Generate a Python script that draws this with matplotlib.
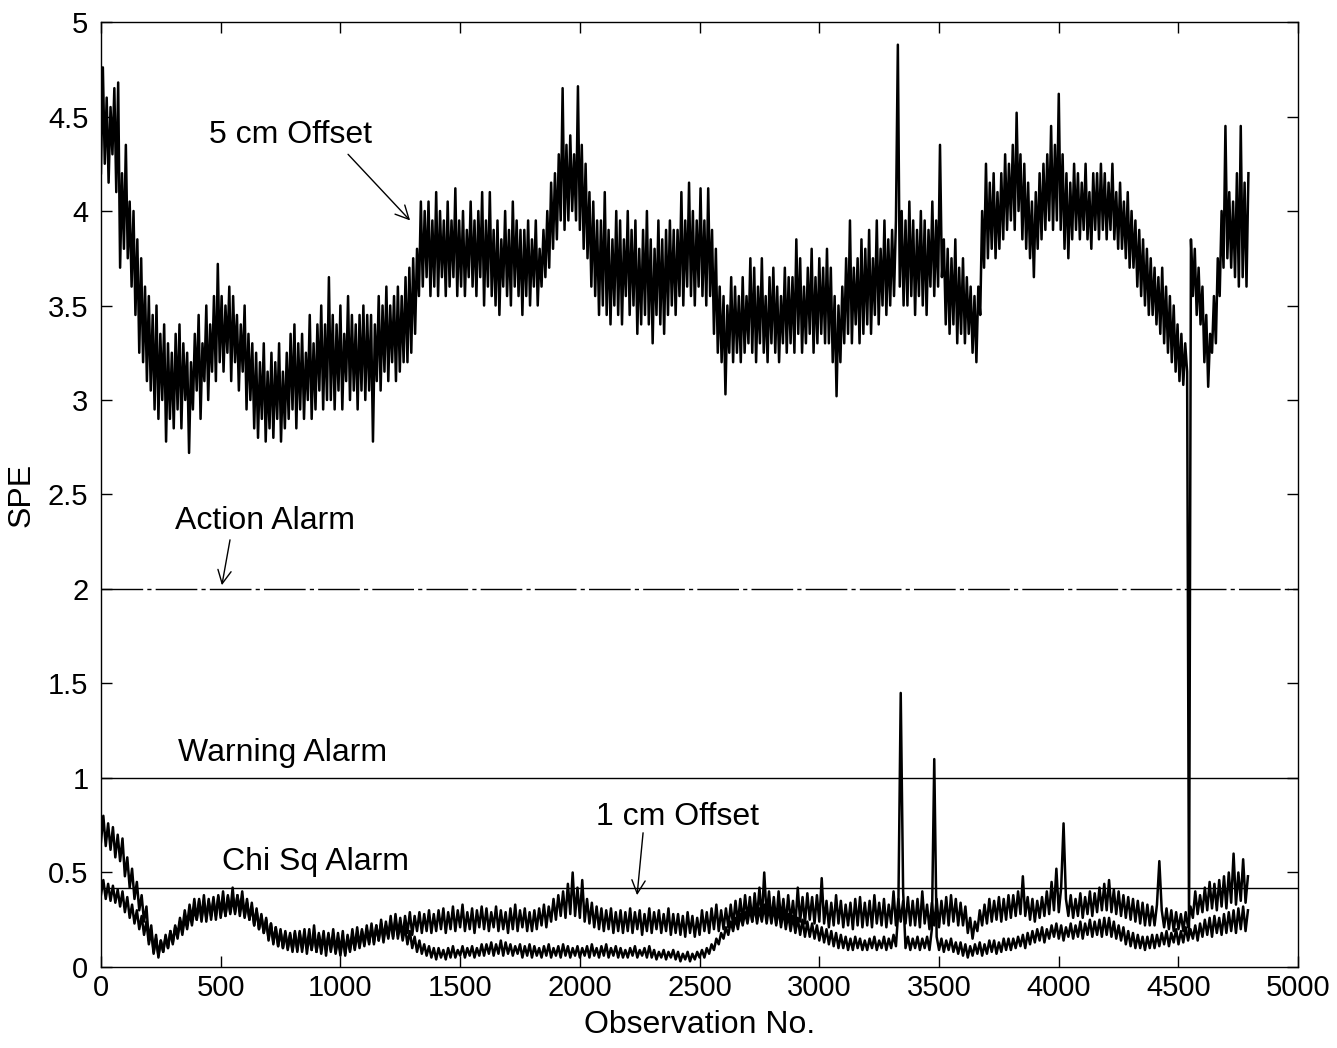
import numpy as np
import matplotlib
matplotlib.use("Agg")
import matplotlib.pyplot as plt
from matplotlib.ticker import FormatStrFormatter

plt.rcParams['font.family'] = ['Liberation Sans', 'DejaVu Sans']

# ---- data ----
step_5cm = 8
spe_5cm = [
    4.20, 4.76, 4.25, 4.60, 4.15, 4.55, 4.30, 4.65, 4.10, 4.68, 3.70, 4.20, 3.80, 4.35, 3.75, 4.05, 3.60, 4.00, 3.45, 3.85,
    3.25, 3.75, 3.20, 3.60, 3.10, 3.55, 3.05, 3.45, 2.95, 3.50, 2.90, 3.35, 3.00, 3.40, 2.78, 3.30, 2.90, 3.25, 2.85, 3.35,
    2.95, 3.40, 2.85, 3.30, 3.00, 3.25, 2.72, 3.20, 2.95, 3.35, 3.05, 3.45, 2.90, 3.30, 3.10, 3.50, 3.00, 3.40, 3.15, 3.55,
    3.10, 3.72, 3.20, 3.55, 3.15, 3.50, 3.25, 3.60, 3.10, 3.55, 3.20, 3.45, 3.05, 3.40, 3.15, 3.50, 2.95, 3.35, 3.00, 3.30,
    2.85, 3.25, 2.80, 3.20, 2.90, 3.30, 2.78, 3.15, 2.85, 3.25, 2.80, 3.20, 2.90, 3.30, 2.78, 3.15, 2.85, 3.25, 2.90, 3.35,
    2.95, 3.40, 2.85, 3.30, 2.95, 3.35, 2.90, 3.25, 3.00, 3.45, 2.90, 3.30, 2.95, 3.40, 3.05, 3.50, 2.95, 3.40, 3.00, 3.65,
    3.00, 3.45, 2.95, 3.40, 3.05, 3.50, 2.95, 3.35, 3.10, 3.55, 3.00, 3.45, 3.05, 3.40, 2.95, 3.45, 3.05, 3.50, 3.00, 3.45,
    3.05, 3.45, 2.78, 3.40, 3.10, 3.55, 3.05, 3.50, 3.15, 3.60, 3.10, 3.50, 3.20, 3.55, 3.10, 3.60, 3.15, 3.55, 3.20, 3.65,
    3.20, 3.70, 3.25, 3.75, 3.35, 3.80, 3.55, 4.05, 3.60, 4.00, 3.65, 4.05, 3.55, 3.95, 3.60, 4.10, 3.55, 4.00, 3.65, 3.95,
    3.55, 4.05, 3.60, 3.95, 3.65, 4.12, 3.55, 3.95, 3.60, 4.00, 3.55, 3.90, 3.65, 4.05, 3.60, 3.95, 3.55, 4.00, 3.65, 4.10,
    3.50, 3.95, 3.60, 4.10, 3.55, 3.90, 3.50, 3.95, 3.45, 3.85, 3.60, 4.00, 3.55, 3.90, 3.50, 4.05, 3.60, 3.95, 3.55, 3.90,
    3.45, 3.90, 3.55, 3.95, 3.50, 3.85, 3.60, 3.95, 3.50, 3.80, 3.60, 3.90, 3.65, 4.00, 3.70, 4.15, 3.80, 4.20, 3.85, 4.30,
    3.95, 4.65, 3.90, 4.35, 3.95, 4.40, 4.00, 4.30, 3.95, 4.66, 3.90, 4.35, 3.80, 4.25, 3.75, 4.10, 3.60, 4.05, 3.55, 3.95,
    3.45, 3.95, 3.50, 4.10, 3.45, 3.90, 3.40, 3.85, 3.50, 4.00, 3.45, 3.95, 3.40, 3.85, 3.55, 4.00, 3.45, 3.90, 3.50, 3.95,
    3.35, 3.80, 3.40, 3.90, 3.45, 4.00, 3.40, 3.85, 3.30, 3.80, 3.45, 3.95, 3.40, 3.85, 3.35, 3.90, 3.45, 3.95, 3.50, 3.90,
    3.45, 3.90, 3.55, 4.10, 3.50, 3.95, 3.60, 4.15, 3.55, 4.00, 3.50, 3.95, 3.60, 4.12, 3.55, 3.95, 3.50, 4.12, 3.55, 3.90,
    3.35, 3.80, 3.25, 3.60, 3.20, 3.55, 3.03, 3.50, 3.25, 3.65, 3.20, 3.60, 3.25, 3.55, 3.20, 3.65, 3.25, 3.55, 3.30, 3.75,
    3.25, 3.70, 3.20, 3.60, 3.30, 3.75, 3.25, 3.55, 3.20, 3.65, 3.30, 3.70, 3.25, 3.60, 3.20, 3.55, 3.30, 3.70, 3.25, 3.65,
    3.30, 3.65, 3.25, 3.85, 3.35, 3.75, 3.25, 3.60, 3.30, 3.70, 3.35, 3.80, 3.25, 3.65, 3.30, 3.75, 3.35, 3.70, 3.30, 3.80,
    3.30, 3.70, 3.20, 3.55, 3.02, 3.50, 3.20, 3.60, 3.30, 3.75, 3.35, 3.95, 3.30, 3.70, 3.40, 3.75, 3.30, 3.85, 3.35, 3.80,
    3.40, 3.90, 3.35, 3.75, 3.45, 3.95, 3.40, 3.80, 3.50, 3.95, 3.45, 3.85, 3.50, 3.90, 3.55, 3.95, 4.88, 3.60, 4.00, 3.50,
    3.95, 3.50, 4.05, 3.55, 3.95, 3.45, 3.90, 3.55, 4.00, 3.50, 3.95, 3.45, 3.90, 3.60, 4.05, 3.55, 3.95, 3.60, 4.35, 3.65,
    3.85, 3.40, 3.80, 3.35, 3.75, 3.40, 3.85, 3.30, 3.70, 3.35, 3.75, 3.30, 3.65, 3.35, 3.60, 3.25, 3.55, 3.20, 3.60, 3.45,
    4.00, 3.70, 4.25, 3.75, 4.15, 3.80, 4.20, 3.75, 4.10, 3.80, 4.20, 3.85, 4.30, 3.90, 4.25, 3.95, 4.35, 3.90, 4.52, 4.00,
    4.30, 3.85, 4.25, 3.80, 4.15, 3.75, 4.05, 3.65, 4.10, 3.80, 4.20, 3.85, 4.25, 3.90, 4.30, 3.95, 4.45, 3.90, 4.35, 3.95,
    4.62, 3.90, 4.30, 3.80, 4.20, 3.75, 4.15, 3.85, 4.25, 3.90, 4.20, 3.85, 4.15, 3.90, 4.25, 3.85, 4.10, 3.80, 4.20, 3.90,
    4.20, 3.85, 4.25, 3.90, 4.20, 3.85, 4.15, 3.90, 4.25, 3.85, 4.10, 3.80, 4.15, 3.80, 4.05, 3.75, 4.10, 3.70, 4.00, 3.70,
    3.95, 3.60, 3.90, 3.55, 3.85, 3.50, 3.80, 3.45, 3.75, 3.45, 3.70, 3.40, 3.65, 3.35, 3.70, 3.30, 3.60, 3.25, 3.55, 3.20,
    3.50, 3.15, 3.40, 3.10, 3.35, 3.08, 3.30, 3.15, 0.18, 3.85, 3.55, 3.80, 3.45, 3.70, 3.40, 3.60, 3.20, 3.45, 3.07, 3.35,
    3.25, 3.55, 3.30, 3.75, 3.55, 4.00, 3.70, 4.45, 3.75, 4.10, 3.70, 4.05, 3.65, 4.20, 3.60, 4.45, 3.65, 4.15, 3.60, 4.20,
]

step_low = 10
spe_1cm = [
    0.66, 0.80, 0.64, 0.76, 0.62, 0.74, 0.58, 0.70, 0.56, 0.68, 0.48, 0.58, 0.42, 0.52, 0.36, 0.45, 0.30, 0.38, 0.24, 0.32,
    0.14, 0.22, 0.08, 0.17, 0.05, 0.14, 0.08, 0.16, 0.10, 0.19, 0.13, 0.22, 0.17, 0.26, 0.20, 0.30, 0.22, 0.33, 0.25, 0.36,
    0.25, 0.36, 0.26, 0.38, 0.24, 0.35, 0.27, 0.37, 0.25, 0.38, 0.28, 0.40, 0.27, 0.37, 0.29, 0.42, 0.28, 0.38, 0.30, 0.40,
    0.27, 0.36, 0.25, 0.34, 0.22, 0.31, 0.20, 0.28, 0.18, 0.26, 0.14, 0.23, 0.12, 0.21, 0.11, 0.20, 0.10, 0.19, 0.10, 0.18,
    0.09, 0.19, 0.08, 0.18, 0.10, 0.20, 0.07, 0.17, 0.09, 0.22, 0.08, 0.18, 0.10, 0.19, 0.06, 0.17, 0.09, 0.20, 0.08, 0.18,
    0.08, 0.19, 0.06, 0.17, 0.09, 0.20, 0.10, 0.21, 0.11, 0.20, 0.12, 0.22, 0.13, 0.23, 0.12, 0.22, 0.14, 0.25, 0.15, 0.24,
    0.16, 0.27, 0.15, 0.28, 0.17, 0.26, 0.16, 0.27, 0.18, 0.29, 0.17, 0.27, 0.19, 0.29, 0.18, 0.28, 0.19, 0.30, 0.18, 0.28,
    0.19, 0.30, 0.20, 0.31, 0.18, 0.29, 0.20, 0.32, 0.19, 0.30, 0.21, 0.33, 0.19, 0.29, 0.20, 0.31, 0.18, 0.30, 0.21, 0.32,
    0.20, 0.31, 0.19, 0.29, 0.21, 0.32, 0.19, 0.30, 0.20, 0.29, 0.18, 0.31, 0.20, 0.33, 0.19, 0.30, 0.21, 0.31, 0.19, 0.29,
    0.19, 0.30, 0.20, 0.31, 0.22, 0.33, 0.21, 0.32, 0.24, 0.36, 0.25, 0.38, 0.27, 0.40, 0.26, 0.44, 0.28, 0.50, 0.27, 0.42,
    0.26, 0.46, 0.24, 0.36, 0.23, 0.34, 0.21, 0.32, 0.20, 0.31, 0.19, 0.30, 0.20, 0.31, 0.18, 0.29, 0.19, 0.30, 0.18, 0.29,
    0.19, 0.31, 0.18, 0.29, 0.20, 0.30, 0.17, 0.28, 0.19, 0.31, 0.18, 0.29, 0.20, 0.30, 0.18, 0.28, 0.19, 0.31, 0.17, 0.28,
    0.18, 0.28, 0.17, 0.27, 0.16, 0.29, 0.18, 0.27, 0.16, 0.26, 0.17, 0.30, 0.19, 0.29, 0.18, 0.31, 0.20, 0.33, 0.19, 0.30,
    0.20, 0.31, 0.21, 0.33, 0.22, 0.35, 0.23, 0.36, 0.24, 0.38, 0.25, 0.37, 0.24, 0.39, 0.26, 0.42, 0.25, 0.50, 0.27, 0.40,
    0.24, 0.37, 0.23, 0.40, 0.25, 0.36, 0.23, 0.38, 0.24, 0.35, 0.22, 0.42, 0.24, 0.37, 0.23, 0.39, 0.25, 0.37, 0.23, 0.38,
    0.24, 0.47, 0.23, 0.35, 0.21, 0.34, 0.22, 0.38, 0.23, 0.35, 0.21, 0.33, 0.22, 0.34, 0.20, 0.36, 0.22, 0.37, 0.21, 0.34,
    0.22, 0.35, 0.21, 0.38, 0.23, 0.34, 0.22, 0.36, 0.21, 0.33, 0.23, 0.40, 0.22, 0.36, 0.24, 0.35, 0.23, 0.37, 0.22, 0.35,
    0.22, 0.36, 0.21, 0.40, 0.23, 0.33, 0.20, 0.34, 0.22, 0.36, 0.21, 0.35, 0.23, 0.37, 0.22, 0.38, 0.24, 0.36, 0.22, 0.34,
    0.22, 0.32, 0.18, 0.26, 0.15, 0.24, 0.19, 0.30, 0.22, 0.33, 0.23, 0.36, 0.24, 0.35, 0.25, 0.37, 0.24, 0.36, 0.25, 0.38,
    0.26, 0.38, 0.27, 0.40, 0.28, 0.48, 0.27, 0.37, 0.25, 0.36, 0.24, 0.35, 0.26, 0.37, 0.27, 0.40, 0.28, 0.45, 0.30, 0.52,
    0.29, 0.42, 0.76, 0.36, 0.27, 0.38, 0.26, 0.36, 0.27, 0.39, 0.26, 0.37, 0.28, 0.40, 0.27, 0.39, 0.29, 0.42, 0.30, 0.44,
    0.30, 0.46, 0.29, 0.41, 0.28, 0.40, 0.27, 0.38, 0.26, 0.37, 0.25, 0.36, 0.24, 0.35, 0.23, 0.34, 0.22, 0.33, 0.22, 0.32,
    0.22, 0.33, 0.56, 0.30, 0.21, 0.31, 0.20, 0.30, 0.19, 0.29, 0.20, 0.28, 0.19, 0.29, 0.21, 0.32, 0.26, 0.40, 0.28, 0.38,
    0.29, 0.42, 0.30, 0.45, 0.31, 0.44, 0.30, 0.46, 0.32, 0.48, 0.31, 0.50, 0.34, 0.60, 0.33, 0.50, 0.35, 0.57, 0.34, 0.48,
]
spe_base = [
    0.38, 0.46, 0.36, 0.44, 0.35, 0.43, 0.34, 0.41, 0.32, 0.40, 0.29, 0.37, 0.26, 0.33, 0.23, 0.30, 0.20, 0.27, 0.17, 0.24,
    0.12, 0.19, 0.07, 0.15, 0.06, 0.14, 0.08, 0.17, 0.10, 0.19, 0.12, 0.21, 0.15, 0.24, 0.17, 0.26, 0.20, 0.29, 0.22, 0.31,
    0.25, 0.35, 0.24, 0.34, 0.26, 0.36, 0.25, 0.35, 0.27, 0.37, 0.26, 0.35, 0.27, 0.38, 0.28, 0.36, 0.29, 0.38, 0.27, 0.36,
    0.26, 0.34, 0.25, 0.32, 0.22, 0.30, 0.20, 0.27, 0.18, 0.25, 0.15, 0.23, 0.13, 0.21, 0.11, 0.19, 0.10, 0.18, 0.09, 0.17,
    0.08, 0.18, 0.09, 0.19, 0.08, 0.17, 0.10, 0.20, 0.09, 0.18, 0.08, 0.17, 0.07, 0.16, 0.09, 0.18, 0.08, 0.17, 0.07, 0.15,
    0.06, 0.15, 0.07, 0.16, 0.08, 0.17, 0.09, 0.18, 0.10, 0.19, 0.11, 0.20, 0.12, 0.21, 0.13, 0.22, 0.14, 0.23, 0.13, 0.22,
    0.15, 0.24, 0.16, 0.25, 0.15, 0.23, 0.14, 0.21, 0.12, 0.19, 0.10, 0.16, 0.08, 0.14, 0.07, 0.12, 0.06, 0.11, 0.05, 0.10,
    0.04, 0.10, 0.05, 0.09, 0.04, 0.10, 0.05, 0.11, 0.05, 0.09, 0.06, 0.11, 0.05, 0.10, 0.06, 0.11, 0.05, 0.10, 0.06, 0.12,
    0.06, 0.12, 0.07, 0.13, 0.06, 0.12, 0.07, 0.14, 0.06, 0.13, 0.07, 0.12, 0.06, 0.11, 0.07, 0.12, 0.05, 0.11, 0.06, 0.12,
    0.05, 0.11, 0.06, 0.10, 0.05, 0.11, 0.06, 0.12, 0.05, 0.10, 0.06, 0.11, 0.05, 0.12, 0.06, 0.11, 0.05, 0.10, 0.06, 0.11,
    0.05, 0.10, 0.06, 0.11, 0.05, 0.12, 0.06, 0.10, 0.05, 0.11, 0.06, 0.12, 0.05, 0.10, 0.06, 0.11, 0.05, 0.10, 0.05, 0.09,
    0.05, 0.10, 0.06, 0.11, 0.05, 0.09, 0.06, 0.10, 0.05, 0.11, 0.05, 0.09, 0.04, 0.08, 0.05, 0.09, 0.04, 0.08, 0.05, 0.09,
    0.04, 0.08, 0.03, 0.07, 0.04, 0.08, 0.03, 0.07, 0.04, 0.08, 0.05, 0.09, 0.05, 0.10, 0.07, 0.12, 0.09, 0.15, 0.12, 0.18,
    0.15, 0.21, 0.17, 0.24, 0.19, 0.26, 0.20, 0.28, 0.22, 0.29, 0.23, 0.31, 0.24, 0.32, 0.23, 0.31, 0.24, 0.33, 0.23, 0.32,
    0.23, 0.32, 0.22, 0.31, 0.21, 0.30, 0.20, 0.28, 0.19, 0.27, 0.18, 0.26, 0.17, 0.25, 0.16, 0.24, 0.16, 0.23, 0.15, 0.22,
    0.14, 0.21, 0.13, 0.20, 0.12, 0.19, 0.11, 0.18, 0.10, 0.17, 0.10, 0.16, 0.09, 0.15, 0.09, 0.16, 0.10, 0.15, 0.09, 0.14,
    0.09, 0.15, 0.10, 0.16, 0.09, 0.14, 0.10, 0.16, 0.09, 0.15, 0.10, 0.17, 0.11, 0.30, 1.45, 0.40, 0.10, 0.16, 0.09, 0.15,
    0.10, 0.16, 0.09, 0.15, 0.10, 0.16, 0.09, 0.20, 1.10, 0.16, 0.09, 0.15, 0.08, 0.14, 0.09, 0.15, 0.08, 0.13, 0.07, 0.13,
    0.06, 0.12, 0.05, 0.11, 0.06, 0.12, 0.07, 0.13, 0.06, 0.12, 0.07, 0.14, 0.08, 0.14, 0.07, 0.13, 0.08, 0.15, 0.09, 0.15,
    0.09, 0.15, 0.10, 0.16, 0.11, 0.17, 0.10, 0.18, 0.12, 0.19, 0.13, 0.20, 0.14, 0.21, 0.13, 0.20, 0.15, 0.22, 0.16, 0.23,
    0.15, 0.22, 0.14, 0.21, 0.16, 0.23, 0.15, 0.22, 0.16, 0.24, 0.15, 0.23, 0.17, 0.25, 0.16, 0.24, 0.17, 0.25, 0.16, 0.26,
    0.17, 0.26, 0.16, 0.24, 0.15, 0.22, 0.14, 0.21, 0.12, 0.19, 0.11, 0.18, 0.10, 0.17, 0.10, 0.16, 0.09, 0.16, 0.10, 0.17,
    0.10, 0.17, 0.11, 0.18, 0.12, 0.19, 0.11, 0.18, 0.13, 0.20, 0.12, 0.19, 0.13, 0.21, 0.14, 0.20, 0.15, 0.22, 0.14, 0.23,
    0.16, 0.25, 0.17, 0.26, 0.16, 0.27, 0.18, 0.26, 0.17, 0.28, 0.18, 0.29, 0.19, 0.30, 0.18, 0.31, 0.20, 0.32, 0.19, 0.30,
]

action_alarm = 2.0
warning_alarm = 1.0
chisq_alarm = 0.42

x_ticks = [0, 500, 1000, 1500, 2000, 2500, 3000, 3500, 4000, 4500, 5000]
y_ticks = [0, 0.5, 1, 1.5, 2, 2.5, 3, 3.5, 4, 4.5, 5]

# ---- figure ----
fig = plt.figure(figsize=(13.37, 10.48), dpi=100)
ax = fig.add_axes([0.0755, 0.0773, 0.8955, 0.9017])

obs_5 = np.arange(len(spe_5cm)) * step_5cm
obs_l = np.arange(len(spe_1cm)) * step_low
ax.plot(obs_l, spe_base, color='black', lw=1.8)
ax.plot(obs_l, spe_1cm, color='black', lw=1.8)
ax.plot(obs_5, spe_5cm, color='black', lw=1.8)

ax.axhline(action_alarm, color='black', lw=1.0, ls=(0, (30, 3, 3, 3)))
ax.axhline(warning_alarm, color='black', lw=1.0)
ax.axhline(chisq_alarm, color='black', lw=1.0)

ax.set_xlim(0, 5000)
ax.set_ylim(0, 5)
ax.set_xticks(x_ticks)
ax.set_yticks(y_ticks)
ax.yaxis.set_major_formatter(FormatStrFormatter('%g'))
ax.tick_params(direction='in', top=True, right=True, length=8, width=1,
               labelsize=21)
ax.tick_params(axis='x', pad=5)
ax.tick_params(axis='y', pad=9)
for s in ax.spines.values():
    s.set_linewidth(1.0)

ax.set_xlabel('Observation No.', fontsize=23, labelpad=6)
ax.set_ylabel('SPE', fontsize=23, labelpad=8)

fs = 23
arrow = dict(arrowstyle='->', color='black', lw=1.0, mutation_scale=24,
             shrinkA=0, shrinkB=0)
ax.text(790, 4.40, '5 cm Offset', fontsize=fs, ha='center', va='center')
ax.annotate('', xy=(1291, 3.95), xytext=(1032, 4.30), arrowprops=arrow)
ax.text(685, 2.36, 'Action Alarm', fontsize=fs, ha='center', va='center')
ax.annotate('', xy=(505, 2.02), xytext=(539, 2.26), arrowprops=arrow)
ax.text(760, 1.13, 'Warning Alarm', fontsize=fs, ha='center', va='center')
ax.text(898, 0.555, 'Chi Sq Alarm', fontsize=fs, ha='center', va='center')
ax.text(2406, 0.795, '1 cm Offset', fontsize=fs, ha='center', va='center')
ax.annotate('', xy=(2239, 0.38), xytext=(2264, 0.71), arrowprops=arrow)

fig.savefig('out.png', dpi=100)
